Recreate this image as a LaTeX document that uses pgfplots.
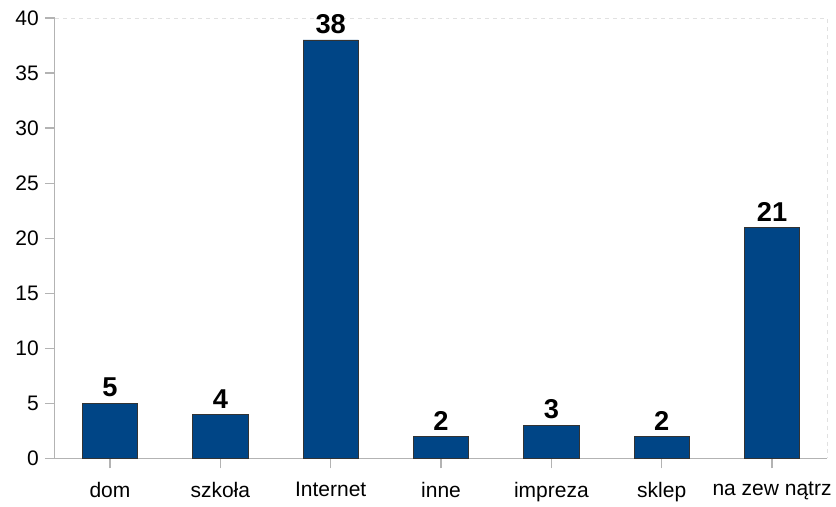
\documentclass[border=0pt]{standalone}
\usepackage{fontspec}
\setmainfont{Liberation Sans}
\usepackage{pgfplots}
\pgfplotsset{compat=1.18}
\definecolor{barblue}{HTML}{004586}
\definecolor{axisgray}{HTML}{B3B3B3}

\begin{document}
\begin{tikzpicture}
\begin{axis}[
    scale only axis,
    width=581.25pt,
    height=331.5pt,
    xmin=-0.5, xmax=6.5,
    ymin=0, ymax=40,
    ytick={0,5,...,40},
    xtick=data,
    xticklabels={dom,szkoła,Internet,inne,impreza,sklep,na zew nątrz},
    axis x line*=bottom,
    axis y line*=left,
    axis line style={axisgray, line width=0.9pt},
    tick style={axisgray, line width=0.9pt},
    tick align=outside,
    major tick length=7.5pt,
    every tick label/.style={font=\fontsize{15.8}{18}\selectfont, black},
    /pgf/number format/assume math mode=true,
    xticklabel style={yshift=-7pt},
    yticklabel style={xshift=-1pt},
    ybar,
    bar width=41.5pt,
    nodes near coords,
    every node near coord/.style={font=\bfseries\fontsize{20.5}{24}\selectfont, black, yshift=1pt},
    clip=false,
]
\addplot[fill=barblue, draw=black!80, line width=0.6pt] coordinates {
    (0,5) (1,4) (2,38) (3,2) (4,3) (5,2) (6,21)
};
\draw[axisgray!40, dashed, line width=0.6pt] (rel axis cs:0,1) -- (rel axis cs:1,1) -- (rel axis cs:1,0);
\end{axis}
\path (current axis.south west) ++(-41.25pt,-33.75pt) coordinate (bl);
\path (current axis.north east) ++(4.5pt,13.5pt) coordinate (tr);
\useasboundingbox (bl) rectangle (tr);
\end{tikzpicture}
\end{document}
